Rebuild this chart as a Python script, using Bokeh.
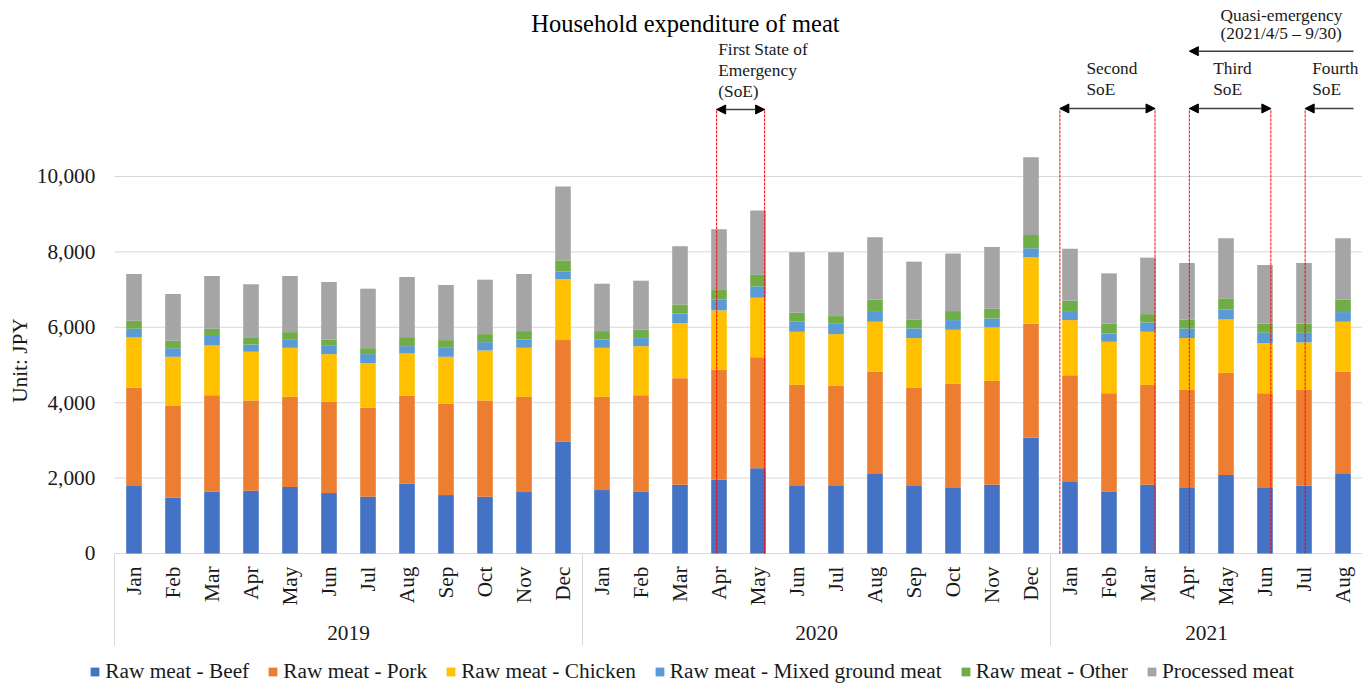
import math
from bokeh.plotting import figure
from bokeh.models import (ColumnDataSource, Range1d, Arrow, NormalHead, Legend, LegendItem)
from bokeh.core.properties import value
from bokeh.embed import file_html
from bokeh.resources import INLINE

# ---------------- data ----------------
years = ["2019", "2020", "2021"]
months_per_year = [12, 12, 8]
month_names = ["Jan", "Feb", "Mar", "Apr", "May", "Jun", "Jul", "Aug", "Sep", "Oct", "Nov", "Dec"]

series = ["Raw meat - Beef", "Raw meat - Pork", "Raw meat - Chicken",
          "Raw meat - Mixed ground meat", "Raw meat - Other", "Processed meat"]
colors = ["#4472C4", "#ED7D31", "#FFC000", "#5B9BD5", "#70AD47", "#A5A5A5"]

beef = [1790, 1479, 1647, 1665, 1763, 1603, 1506, 1851, 1550, 1506, 1630, 2967,
        1683, 1647, 1825, 1957, 2259, 1789, 1789, 2108, 1789, 1736, 1825, 3073,
        1895, 1647, 1825, 1736, 2081, 1736, 1798, 2108]
pork = [2603, 2436, 2551, 2391, 2391, 2418, 2356, 2329, 2427, 2550, 2524, 2693,
        2471, 2551, 2825, 2914, 2949, 2684, 2666, 2710, 2604, 2772, 2754, 3021,
        2835, 2604, 2648, 2604, 2711, 2515, 2542, 2710]
chicken = [1337, 1302, 1320, 1294, 1302, 1267, 1186, 1125, 1240, 1329, 1302, 1620,
           1302, 1302, 1461, 1577, 1576, 1408, 1364, 1329, 1320, 1426, 1417, 1762,
           1461, 1364, 1408, 1373, 1417, 1329, 1258, 1329]
mixed = [231, 230, 248, 194, 212, 221, 240, 195, 239, 221, 221, 195,
         221, 213, 257, 292, 302, 266, 275, 283, 257, 257, 239, 239,
         239, 222, 248, 257, 257, 275, 257, 257]
other = [212, 195, 195, 195, 204, 168, 159, 239, 204, 213, 222, 301,
         222, 221, 239, 248, 310, 239, 203, 301, 239, 239, 257, 355,
         275, 257, 221, 239, 301, 239, 239, 327]
processed = [1240, 1240, 1399, 1400, 1488, 1524, 1577, 1595, 1461, 1444, 1514, 1958,
             1257, 1302, 1541, 1612, 1700, 1603, 1692, 1657, 1532, 1524, 1639, 2063,
             1381, 1337, 1497, 1497, 1594, 1558, 1612, 1630]

y_ticks = [0, 2000, 4000, 6000, 8000, 10000]

# state-of-emergency boundary positions (in month-slot units)
soe_bounds = [15.44, 16.67, 24.24, 26.68, 27.56, 29.65, 30.53]

# ---------------- build ----------------
FONT = "Liberation Serif"
TXT = "#1a1a1a"
GRID = "#D9D9D9"

months = [m for n in months_per_year for m in month_names[:n]]
xs = [i + 0.5 for i in range(len(months))]          # slot centres
bounds = [0]
for n in months_per_year:
    bounds.append(bounds[-1] + n)
year_centers = [(a + b) / 2 for a, b in zip(bounds[:-1], bounds[1:])]

keys = ["beef", "pork", "chicken", "mixed", "other", "processed"]
src = ColumnDataSource(dict(x=xs, month=months, beef=beef, pork=pork, chicken=chicken,
                            mixed=mixed, other=other, processed=processed))

p = figure(width=1362, height=684,
           x_range=Range1d(-2.923, 32.0), y_range=Range1d(-3475, 14668),
           output_backend="svg", toolbar_location=None,
           x_axis_location=None, y_axis_location=None,
           min_border_left=0, min_border_right=0, min_border_top=0, min_border_bottom=0)
p.outline_line_color = None
p.background_fill_color = "white"
p.border_fill_color = "white"
p.grid.visible = False

# horizontal gridlines (value axis)
p.segment(x0=bounds[0], x1=bounds[-1] + 0.3, y0=y_ticks, y1=y_ticks, line_color=GRID, line_width=1)
# y tick labels
p.text(x=-0.49, y=y_ticks, text=[f"{t:,}" for t in y_ticks], text_align="right",
       text_baseline="middle", text_font=value(FONT), text_font_size="16pt", text_color=TXT)
# y axis title
p.text(x=[-2.42], y=[5119], text=["Unit: JPY"], angle=math.pi / 2, text_align="center",
       text_baseline="middle", text_font=value(FONT), text_font_size="16pt", text_color=TXT)

renderers = p.vbar_stack(keys, x="x", width=0.4, fill_color=colors, line_color=None, source=src)

# category axis: month labels, year labels, separators
p.text(x="x", y=-345, text="month", source=src, angle=math.pi / 2, text_align="right",
       text_baseline="middle", text_font=value(FONT), text_font_size="16pt", text_color=TXT)
p.text(x=year_centers, y=-2122, text=years, text_align="center", text_baseline="middle",
       text_font=value(FONT), text_font_size="16pt", text_color=TXT)
p.segment(x0=bounds, x1=bounds, y0=0, y1=-2440, line_color=GRID, line_width=1)

# red dashed boundaries
p.segment(x0=soe_bounds, y0=0, x1=soe_bounds, y1=11800,
          line_color="#FF0000", line_dash="3 1", line_width=1)

# arrows
def head():
    return NormalHead(size=9, fill_color="black", line_color="black")

shaft = "#404040"
arrow_specs = [
    (soe_bounds[0], soe_bounds[1], 11777, True),
    (soe_bounds[2], soe_bounds[3], 11804, True),
    (soe_bounds[4], soe_bounds[5], 11804, True),
    (31.77, soe_bounds[6], 11804, False),
    (31.77, soe_bounds[4], 13324, False),
]
for x_s, x_e, yy, both in arrow_specs:
    p.add_layout(Arrow(start=head() if both else None, end=head(),
                       x_start=x_s, y_start=yy, x_end=x_e, y_end=yy,
                       line_color=shaft, line_width=1.5))

# annotation texts
notes = [
    ("First State of", 15.48, 13369), ("Emergency", 15.48, 12812), ("(SoE)", 15.48, 12255),
    ("Second", 24.92, 12865), ("SoE", 24.92, 12308),
    ("Third", 28.17, 12865), ("SoE", 28.17, 12308),
    ("Fourth", 30.71, 12865), ("SoE", 30.71, 12308),
    ("Quasi-emergency", 28.36, 14271), ("(2021/4/5  \u2013 9/30)", 28.36, 13793),
]
p.text(x=[n[1] for n in notes], y=[n[2] for n in notes], text=[n[0] for n in notes],
       text_align="left", text_baseline="middle", text_font=value(FONT),
       text_font_size="13pt", text_color=TXT)

# title
p.text(x=[14.64], y=[14058], text=["Household expenditure of meat"], text_align="center",
       text_baseline="middle", text_font=value(FONT), text_font_size="24.5px", text_color="#000000")

legend = Legend(items=[LegendItem(label=s, renderers=[r]) for s, r in zip(series, renderers)],
                orientation="horizontal", location=(89.3, 0),
                border_line_color=None, background_fill_alpha=0, padding=0, margin=0,
                spacing=18, label_standoff=5, glyph_width=11, glyph_height=11, label_height=11,
                label_text_font=FONT, label_text_font_size="16pt", label_text_color=TXT)
p.add_layout(legend)

open("out.html", "w").write(file_html(p, INLINE))
